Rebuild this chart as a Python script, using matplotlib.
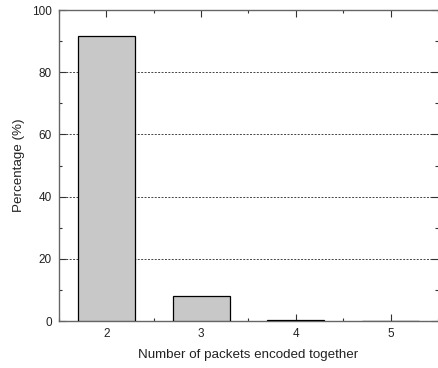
import numpy as np
import matplotlib.pyplot as plt
from matplotlib.ticker import MultipleLocator

plt.rcParams['font.family'] = ['Liberation Sans', 'DejaVu Sans']

# data
packets = [2, 3, 4, 5]
percent = [91.8, 8.1, 0.3, 0.0]

fig = plt.figure(figsize=(4.39, 3.68), dpi=100)
ax = fig.add_axes([0.1344, 0.1277, 0.8633, 0.8451])

ax.bar(packets, percent, width=0.6, color='#c8c8c8', edgecolor='black',
       linewidth=0.9, zorder=3)

ax.set_xlim(1.5, 5.5)
ax.set_ylim(0, 100)
ax.set_xticks(packets)
ax.set_yticks([0, 20, 40, 60, 80, 100])
ax.xaxis.set_minor_locator(MultipleLocator(0.5))
ax.yaxis.set_minor_locator(MultipleLocator(10))

# dashed horizontal grid behind the bars
ax.yaxis.grid(True, which='major', linestyle=(0, (2, 1.5)), color='#444444',
              linewidth=0.7, zorder=0)

for s in ['left', 'top', 'bottom']:
    ax.spines[s].set_color('#666666')
    ax.spines[s].set_linewidth(1.0)
ax.spines['right'].set_visible(False)

ax.tick_params(which='both', direction='in', top=True, right=True,
               color='#333333', labelsize=8.5, labelcolor='#222222')
ax.tick_params(which='major', length=5, width=0.8)
ax.tick_params(which='minor', length=2.5, width=0.8)
ax.tick_params(axis='y', pad=5)
ax.tick_params(axis='x', pad=5)

ax.set_xlabel('Number of packets encoded together', fontsize=9.6,
              color='#222222', labelpad=6.5)
ax.set_ylabel('Percentage (%)', fontsize=9.6, color='#222222', labelpad=5)

fig.savefig('out.png', dpi=100)
